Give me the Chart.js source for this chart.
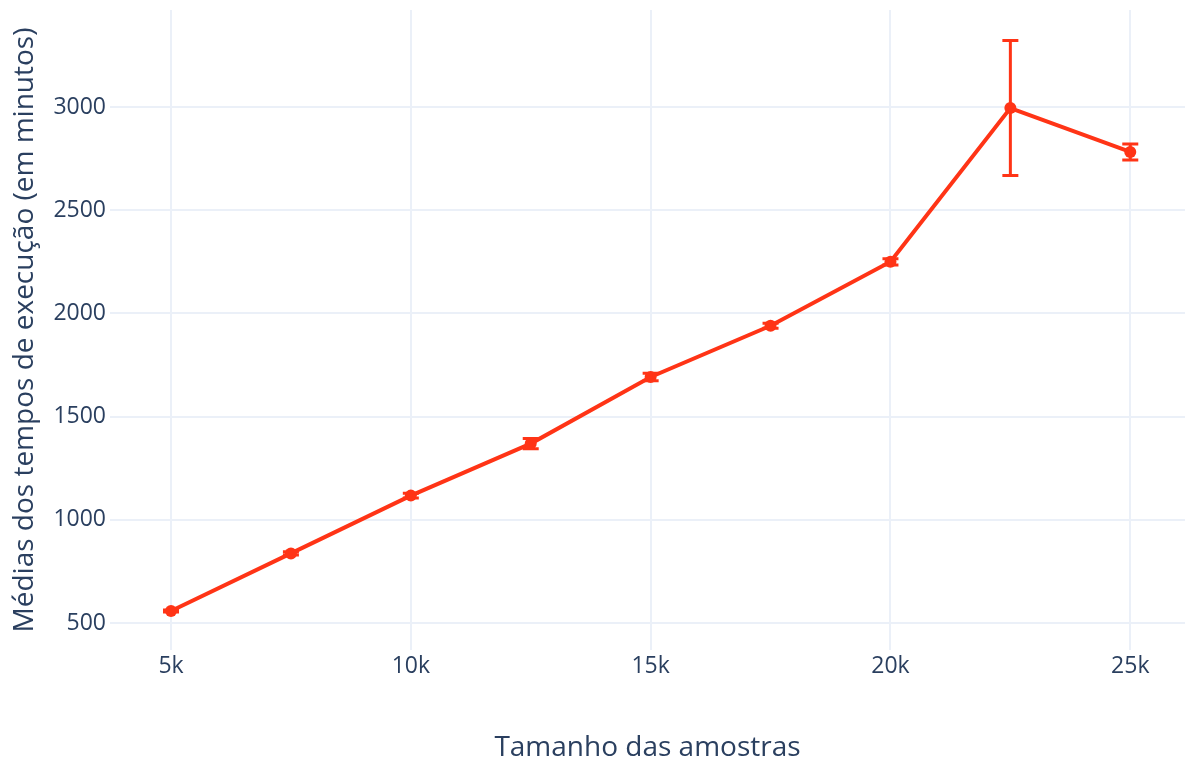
<!DOCTYPE html>
<html>
<head>
<meta charset="utf-8">
<script src="https://cdn.jsdelivr.net/npm/chart.js@4/dist/chart.umd.min.js"></script>
<style>
  html, body { margin: 0; padding: 0; background: #ffffff; overflow: hidden; }
  #wrap { width: 1191px; height: 760px; position: relative; overflow: hidden; }
  #c { display: block; width: 1191px; height: 760px; }
</style>
</head>
<body>
<div id="wrap"><canvas id="c" width="1191" height="760"></canvas></div>
<script>
// Sample sizes and mean execution times (minutes) with their error margins
const sampleSizes = [5000, 7500, 10000, 12500, 15000, 17500, 20000, 22500, 25000];
const meanTimes   = [558, 837, 1117, 1369, 1692, 1940, 2250, 2995, 2782];
const errorMargin = [5, 8, 12, 25, 18, 12, 15, 327, 39];

const xTickValues = [5000, 10000, 15000, 20000, 25000];
const xTickLabels = ['5k', '10k', '15k', '20k', '25k'];
const yTickValues = [500, 1000, 1500, 2000, 2500, 3000];

const lineColor = 'rgb(255, 52, 22)';
const textColor = '#2a3f5f';
const gridColor = '#ebf0f8';

// symmetric vertical error bars with caps, placed through the chart scales
const errorBars = {
  id: 'errorBars',
  afterDatasetsDraw(chart) {
    const { ctx, scales: { x, y } } = chart;
    ctx.save();
    ctx.strokeStyle = lineColor;
    ctx.lineWidth = 3;
    const cap = 8;
    sampleSizes.forEach((s, i) => {
      const px = x.getPixelForValue(s);
      const top = y.getPixelForValue(meanTimes[i] + errorMargin[i]);
      const bot = y.getPixelForValue(meanTimes[i] - errorMargin[i]);
      ctx.beginPath();
      ctx.moveTo(px, top); ctx.lineTo(px, bot);
      ctx.moveTo(px - cap, top); ctx.lineTo(px + cap, top);
      ctx.moveTo(px - cap, bot); ctx.lineTo(px + cap, bot);
      ctx.stroke();
    });
    ctx.restore();
  }
};

new Chart(document.getElementById('c'), {
  type: 'scatter',
  data: {
    datasets: [{
      data: sampleSizes.map((s, i) => ({ x: s, y: meanTimes[i] })),
      showLine: true,
      borderColor: lineColor,
      backgroundColor: lineColor,
      borderWidth: 4,
      pointRadius: 6,
      pointBorderWidth: 0,
      pointBackgroundColor: lineColor,
      tension: 0
    }]
  },
  options: {
    responsive: false,
    animation: false,
    devicePixelRatio: 1,
    layout: { padding: { top: 10, right: 1, left: 0, bottom: 0 } },
    plugins: { legend: { display: false }, tooltip: { enabled: false } },
    scales: {
      x: {
        type: 'linear',
        min: 3728,
        max: 26141,
        afterFit(scale) {
          scale.height = 110;
          scale.paddingLeft = 0;
          scale.paddingRight = 0;
        },
        afterBuildTicks(scale) { scale.ticks = xTickValues.map(v => ({ value: v })); },
        ticks: {
          autoSkip: false,
          maxRotation: 0,
          padding: 3,
          color: textColor,
          font: { family: 'Open Sans', size: 23 },
          callback: (v) => xTickLabels[xTickValues.indexOf(v)]
        },
        grid: { color: gridColor, lineWidth: 2, drawTicks: false },
        border: { display: false },
        title: {
          display: true,
          text: 'Tamanho das amostras',
          color: textColor,
          font: { family: 'Open Sans', size: 28, lineHeight: 1.2 },
          padding: { top: 0, bottom: -5 }
        }
      },
      y: {
        type: 'linear',
        min: 369,
        max: 3470,
        afterFit(scale) {
          scale.width = 110;
          scale.paddingTop = 0;
          scale.paddingBottom = 0;
        },
        afterBuildTicks(scale) { scale.ticks = yTickValues.map(v => ({ value: v })); },
        ticks: {
          autoSkip: false,
          padding: 4,
          color: textColor,
          font: { family: 'Open Sans', size: 23 },
          callback: (v) => String(v)
        },
        grid: { color: gridColor, lineWidth: 2, drawTicks: false },
        border: { display: false },
        title: {
          display: true,
          text: 'Médias dos tempos de execução (em minutos)',
          color: textColor,
          font: { family: 'Open Sans', size: 28, lineHeight: 1.2 },
          padding: { top: 8, bottom: 0 }
        }
      }
    }
  },
  plugins: [errorBars]
});
</script>
</body>
</html>
